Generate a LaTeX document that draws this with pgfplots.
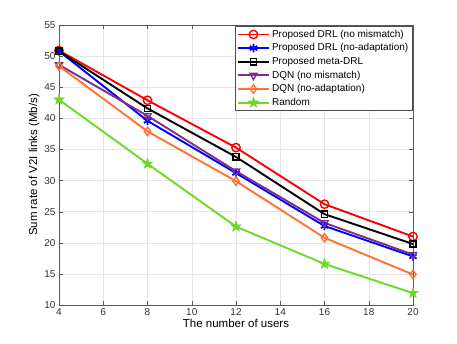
\documentclass[border=0pt]{standalone}
\usepackage{fontspec}
\setmainfont{Liberation Sans}
\usepackage{pgfplots}
\pgfplotsset{compat=1.18}
\definecolor{cpurple}{rgb}{0.49,0.18,0.56}
\definecolor{corange}{rgb}{1.0,0.45,0.2}
\definecolor{cgreen}{rgb}{0.42,0.85,0.15}
\tikzset{ln/.style={line width=1.9pt, mark size=4.2pt}}
% filled five-pointed star, as MATLAB's pentagram
\pgfdeclareplotmark{pentagram}{%
  \pgfpathmoveto{\pgfqpointpolar{90}{1.3\pgfplotmarksize}}%
  \foreach \k in {1,...,9}{%
    \pgfmathsetmacro\ang{90+36*\k}%
    \ifodd\k
      \pgfpathlineto{\pgfqpointpolar{\ang}{0.5\pgfplotmarksize}}%
    \else
      \pgfpathlineto{\pgfqpointpolar{\ang}{1.3\pgfplotmarksize}}%
    \fi}%
  \pgfpathclose
  \pgfusepathqfillstroke}
\begin{document}
\begin{tikzpicture}
\begin{axis}[
    scale only axis,
    width=354pt, height=280pt,
    xmin=4, xmax=20, ymin=10, ymax=55,
    xtick={4,6,...,20}, ytick={10,15,...,55},
    grid=major,
    grid style={gray!20},
    tick align=inside,
    major tick length=4pt,
    axis line style={gray!70!black},
    tick style={gray!70!black},
    tick label style={font=\fontsize{10}{12}\selectfont, text=black!80},
    /pgf/number format/assume math mode=true,
    xlabel={The number of users},
    ylabel={Sum rate of V2I links (Mb/s)},
    label style={font=\fontsize{11.5}{13}\selectfont},
    xlabel style={yshift=3pt},
    ylabel style={yshift=-2pt},
    legend pos=north east,
    legend cell align=left,
    legend style={font=\fontsize{10}{12}\selectfont, inner sep=1.5pt, row sep=0.9pt,
        at={(0.997,0.995)}, draw=black!70},
    legend image code/.code={\draw[mark repeat=2,mark phase=2] plot coordinates {(0cm,0cm) (0.55cm,0cm) (1.1cm,0cm)};},
]
\addplot[ln, red, mark=o, mark options={line width=1.4pt}] coordinates {(4,50.9) (8,42.9) (12,35.3) (16,26.2) (20,21.0)};
\addplot[ln, blue, mark=asterisk, mark options={line width=1.8pt}] coordinates {(4,50.8) (8,39.6) (12,31.2) (16,22.7) (20,17.8)};
\addplot[ln, black, mark=square, mark options={line width=1.4pt, scale=0.75}] coordinates {(4,50.8) (8,41.6) (12,33.8) (16,24.6) (20,19.8)};
\addplot[ln, cpurple, mark=triangle, mark options={rotate=180, line width=1.4pt}] coordinates {(4,48.6) (8,40.4) (12,31.5) (16,23.2) (20,18.1)};
\addplot[ln, corange, mark=diamond, mark options={line width=1.4pt}] coordinates {(4,48.4) (8,37.9) (12,29.9) (16,20.8) (20,14.9)};
\addplot[ln, cgreen, mark=pentagram, mark options={line width=0.6pt, fill=cgreen}] coordinates {(4,43.0) (8,32.7) (12,22.6) (16,16.6) (20,11.9)};
\legend{Proposed DRL (no mismatch), Proposed DRL (no-adaptation), Proposed meta-DRL, DQN (no mismatch), DQN (no-adaptation), Random}
\end{axis}
\useasboundingbox (-59pt,-38pt) rectangle (398pt,305pt);
\end{tikzpicture}
\end{document}
